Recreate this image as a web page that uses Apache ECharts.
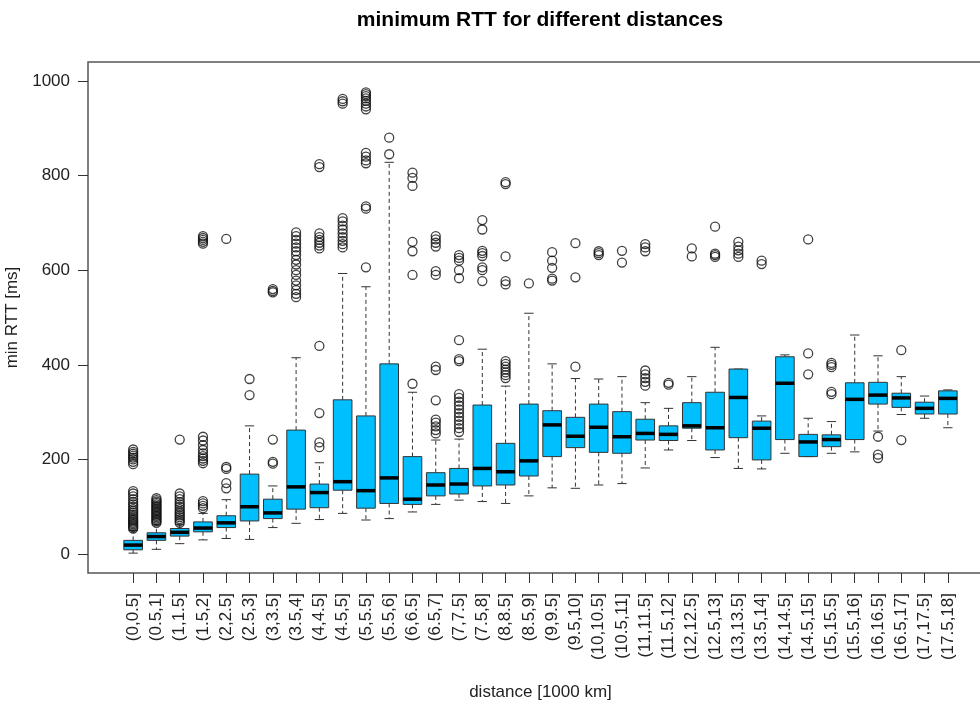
<!DOCTYPE html>
<html><head><meta charset="utf-8">
<script src="https://cdn.jsdelivr.net/npm/echarts@6/dist/echarts.min.js"></script>
<style>html,body{margin:0;padding:0;background:#fff}#chart{width:980px;height:707px}</style>
</head><body><div id="chart"></div>
<script>
const categories = ['(0,0.5]','(0.5,1]','(1,1.5]','(1.5,2]','(2,2.5]','(2.5,3]','(3,3.5]','(3.5,4]','(4,4.5]','(4.5,5]','(5,5.5]','(5.5,6]','(6,6.5]','(6.5,7]','(7,7.5]','(7.5,8]','(8,8.5]','(8.5,9]','(9,9.5]','(9.5,10]','(10,10.5]','(10.5,11]','(11,11.5]','(11.5,12]','(12,12.5]','(12.5,13]','(13,13.5]','(13.5,14]','(14,14.5]','(14.5,15]','(15,15.5]','(15.5,16]','(16,16.5]','(16.5,17]','(17,17.5]','(17.5,18]'];
const whiskerLow  = [2,10,22,30,33,31,56,65,73,86,72,75,89,105,114,111,107,123,140,139,146,149,182,220,240,204,181,180,213,206,213,216,260,295,287,267];
const q1          = [9,29,38,47,56,70,75,95,98,135,97,107,105,123,127,144,146,165,206,225,215,213,241,240,266,220,246,199,242,206,227,242,317,310,296,296];
const median      = [19,37,46,55,66,100,87,142,130,153,134,161,116,146,148,181,174,197,273,249,268,248,255,253,271,267,331,266,361,237,242,327,336,330,308,329];
const q3          = [29,45,54,68,81,169,116,262,148,326,292,402,206,172,181,315,234,317,303,289,317,301,285,271,320,342,391,281,417,253,252,362,363,340,321,345];
const whiskerHigh = [50,62,62,86,115,271,144,415,193,593,565,828,342,241,243,433,355,509,402,371,370,375,320,308,375,437,391,292,421,287,280,463,419,375,334,347];
const outliers = [
  [54,57,60,63,66,69,72,75,79,83,87,91,95,100,105,110,116,122,128,133,190,195,200,204,208,212,216,221],
  [66,69,72,75,78,81,84,87,90,93,96,99,102,105,108,111,114,118],
  [66,70,74,78,82,86,90,95,100,105,110,116,122,128,242],
  [97,102,107,112,192,197,202,207,213,220,230,240,248,656,660,664,668,672],
  [139,150,180,184,666],
  [336,370],
  [191,195,242,553,556,560],
  [543,550,558,568,578,590,600,612,622,632,640,648,656,664,672,680],
  [226,236,298,440,646,652,658,664,670,678,818,824],
  [648,655,662,670,678,686,694,703,710,952,957,962],
  [606,730,735,826,832,840,848,940,946,952,958,963,968,972,976],
  [845,880],
  [360,590,640,660,778,795,806],
  [255,262,270,278,284,325,389,396,590,598,650,658,665,672],
  [258,266,274,282,290,298,306,314,322,330,338,408,412,452,583,600,620,626,632],
  [577,600,606,630,636,641,686,706],
  [372,378,384,390,396,402,408,570,577,629,782,786],
  [572],
  [578,582,605,620,638],
  [396,585,657],
  [632,636,640],
  [616,641],
  [356,364,372,380,388,640,648,655],
  [358,362],
  [629,646],
  [628,632,635,692],
  [628,635,642,650,660],
  [613,620],
  [],
  [380,424,665],
  [338,343,395,400,404],
  [],
  [203,210,248],
  [241,431],
  [],
  []
];
const yTicks = [0,200,400,600,800,1000];

const FONT = '"Liberation Sans", Arial, Helvetica, sans-serif';
const chart = echarts.init(document.getElementById('chart'), null, {renderer:'canvas'});
const positions = categories.map((c,i)=>i+1);
const boxData = categories.map((c,i)=>[i+1, whiskerLow[i], q1[i], median[i], q3[i], whiskerHigh[i]]);
const outlierData = [];
outliers.forEach((arr,i)=>arr.forEach(v=>outlierData.push([i+1, v])));

const option = {
  animation:false,
  backgroundColor:'#fff',
  title:{text:'minimum RTT for different distances', left:540, top:10, textAlign:'center', padding:0,
    textStyle:{fontFamily:FONT, fontSize:21, fontWeight:'bold', color:'#000'}},
  grid:{left:88, top:62, right:-13, bottom:134, containLabel:false, outerBoundsMode:'none',
    show:true, borderColor:'#555', borderWidth:1.5, backgroundColor:'transparent'},
  xAxis:{type:'value', min:-0.94, max:37.94,
    name:'distance [1000 km]', nameLocation:'middle', nameGap:111,
    nameTextStyle:{fontFamily:FONT, fontSize:17, color:'#222'},
    axisLine:{show:false, onZero:false}, splitLine:{show:false},
    axisTick:{show:true, inside:false, customValues:positions, length:10, lineStyle:{color:'#333'}},
    axisLabel:{customValues:positions, rotate:90, margin:20, formatter:v=>categories[Math.round(v)-1],
      fontFamily:FONT, fontSize:17, color:'#222'}},
  yAxis:{type:'value', min:-40, max:1040,
    name:'min RTT [ms]', nameLocation:'middle', nameGap:57,
    nameTextStyle:{fontFamily:FONT, fontSize:17, color:'#222'},
    axisLine:{show:false, onZero:false}, splitLine:{show:false},
    axisTick:{show:true, inside:false, customValues:yTicks, length:10, lineStyle:{color:'#333'}},
    axisLabel:{customValues:yTicks, margin:18, formatter:v=>String(v), fontFamily:FONT, fontSize:17, color:'#222'}},
  series:[
    {type:'custom', data:boxData, encode:{x:0, y:[1,2,3,4,5]}, z:2,
      renderItem(params, api){
        const x = api.value(0);
        const pLo = api.coord([x, api.value(1)]);
        const pQ1 = api.coord([x, api.value(2)]);
        const pMed = api.coord([x, api.value(3)]);
        const pQ3 = api.coord([x, api.value(4)]);
        const pHi = api.coord([x, api.value(5)]);
        const unit = api.size([1,0])[0];
        const hb = unit*0.4, hc = unit*0.2;
        const cx = pMed[0];
        const dash = {stroke:'#333', lineWidth:1, lineDash:[4,3]};
        const solid = {stroke:'#333', lineWidth:1};
        return {type:'group', children:[
          {type:'line', shape:{x1:cx,y1:pQ3[1],x2:cx,y2:pHi[1]}, style:dash},
          {type:'line', shape:{x1:cx,y1:pQ1[1],x2:cx,y2:pLo[1]}, style:dash},
          {type:'line', shape:{x1:cx-hc,y1:pHi[1],x2:cx+hc,y2:pHi[1]}, style:solid},
          {type:'line', shape:{x1:cx-hc,y1:pLo[1],x2:cx+hc,y2:pLo[1]}, style:solid},
          {type:'rect', shape:{x:cx-hb, y:pQ3[1], width:2*hb, height:pQ1[1]-pQ3[1]}, style:{fill:'#00BFFF', stroke:'#333', lineWidth:1}},
          {type:'line', shape:{x1:cx-hb,y1:pMed[1],x2:cx+hb,y2:pMed[1]}, style:{stroke:'#000', lineWidth:3.5}}
        ]};
      }},
    {type:'scatter', data:outlierData, z:3, symbol:'circle', symbolSize:9,
      itemStyle:{color:'rgba(0,0,0,0)', borderColor:'#111', borderWidth:1.3}}
  ]
};
chart.setOption(option);
</script></body></html>
